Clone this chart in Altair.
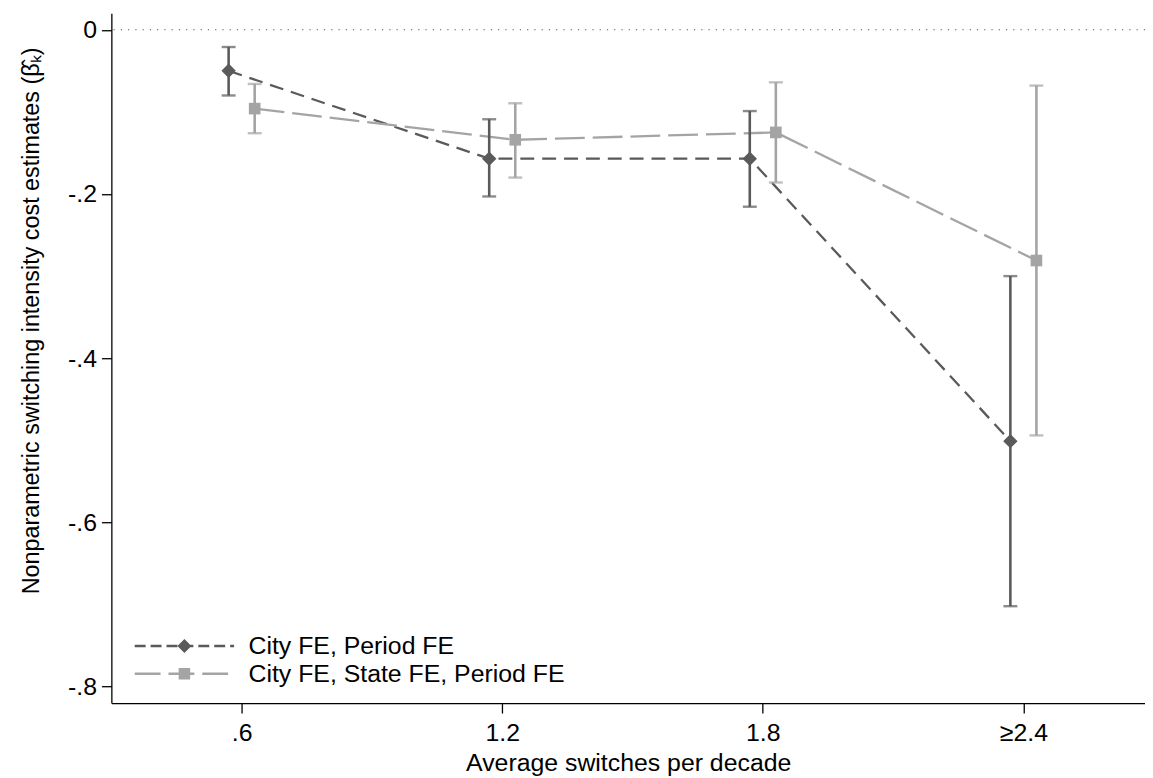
import altair as alt
import pandas as pd

# ---- data ----
x_vals = [0.6, 1.2, 1.8, 2.4]
x_labels = [".6", "1.2", "1.8", "≥2.4"]
series = ["City FE, Period FE", "City FE, State FE, Period FE"]

b_city = [-0.050, -0.157, -0.157, -0.501]
lo_city = [-0.080, -0.203, -0.2155, -0.702]
hi_city = [-0.021, -0.109, -0.099, -0.300]

b_state = [-0.096, -0.134, -0.125, -0.281]
lo_state = [-0.126, -0.180, -0.186, -0.494]
hi_state = [-0.066, -0.0895, -0.064, -0.068]

y_ticks = [0, -0.2, -0.4, -0.6, -0.8]
y_labels = ["0", "-.2", "-.4", "-.6", "-.8"]

dodge = [-0.03, 0.03]

DARK = "#5a5a5a"
LIGHT = "#a4a4a4"
FONT = "Liberation Sans, Arial, Helvetica, sans-serif"
FS = 25

rows = []
for s, b, lo, hi, d in [(series[0], b_city, lo_city, hi_city, dodge[0]),
                        (series[1], b_state, lo_state, hi_state, dodge[1])]:
    for xv, bv, l, h in zip(x_vals, b, lo, hi):
        rows.append({"series": s, "x": xv, "xpos": xv + d, "b": bv, "lo": l, "hi": h})
df = pd.DataFrame(rows)


def label_expr(vals, labs):
    expr = "''"
    for v, l in reversed(list(zip(vals, labs))):
        expr = f"abs(datum.value - ({v})) < 1e-6 ? '{l}' : ({expr})"
    return expr


# legend symbol: size 400 -> 1 path unit = 10px, symbol centre sits 10px into the entry.
SYM_SIZE = 400
UNIT = 10.0
CENTER = 10.0
SYM_LEN = 100.0


def legend_path(dash, gap, marker, half):
    def u(px):
        return (px - CENTER) / UNIT
    t = 1.2 / UNIT
    parts = []
    pos = 0.0
    while pos < SYM_LEN:
        end = min(pos + dash, SYM_LEN)
        a, c = u(pos), u(end)
        parts.append(f"M{a:.3f},{-t:.3f}L{c:.3f},{-t:.3f}L{c:.3f},{t:.3f}L{a:.3f},{t:.3f}Z")
        pos = end + gap
    m = u(SYM_LEN / 2)
    h = half / UNIT
    if marker == "diamond":
        parts.append(f"M{m - h:.3f},0L{m:.3f},{-h:.3f}L{m + h:.3f},0L{m:.3f},{h:.3f}Z")
    else:
        parts.append(f"M{m - h:.3f},{-h:.3f}L{m + h:.3f},{-h:.3f}L{m + h:.3f},{h:.3f}L{m - h:.3f},{h:.3f}Z")
    return "".join(parts)


path_city = legend_path(11, 5, "diamond", 7)
path_state = legend_path(26, 8, "square", 5.8)

xscale = alt.Scale(domain=[0.3, 2.68], nice=False, zero=False)
yscale = alt.Scale(domain=[-0.82, 0.02], nice=False, zero=False)

xaxis = alt.Axis(values=x_vals, labelExpr=label_expr(x_vals, x_labels),
                 title="Average switches per decade", tickSize=10, labelPadding=8,
                 titlePadding=5, grid=False)
yaxis = alt.Axis(values=y_ticks, labelExpr=label_expr(y_ticks, y_labels),
                 title="Nonparametric switching intensity cost estimates (β\u0302\u2096)",
                 titleFontSize=23.5, titleY=309,
                 tickSize=10, labelPadding=5, titlePadding=24, grid=False)

base = alt.Chart(df)

zero = alt.Chart(pd.DataFrame({"y": [0]})).mark_rule(
    color="#555555", strokeWidth=1.2, strokeDash=[1.2, 6.1]
).encode(y=alt.Y("y:Q", scale=yscale, axis=yaxis))

layers = [zero]
for s, col, dash in [(series[0], DARK, [14, 8]), (series[1], LIGHT, [30, 8])]:
    sub = base.transform_filter(alt.datum.series == s)
    layers.append(sub.mark_line(color=col, strokeWidth=2.3, strokeDash=dash).encode(
        x=alt.X("xpos:Q", scale=xscale, axis=xaxis), y=alt.Y("b:Q", scale=yscale)))

for s, col in [(series[0], DARK), (series[1], LIGHT)]:
    sub = base.transform_filter(alt.datum.series == s)
    layers.append(sub.mark_rule(color=col, strokeWidth=2.6).encode(
        x=alt.X("xpos:Q", scale=xscale), y=alt.Y("lo:Q", scale=yscale), y2="hi:Q"))
    for f in ["lo", "hi"]:
        layers.append(sub.mark_tick(color=col, orient="horizontal", size=14, thickness=2.4).encode(
            x=alt.X("xpos:Q", scale=xscale), y=alt.Y(f"{f}:Q", scale=yscale)))

for s, col, shp, sz in [(series[0], DARK, "diamond", 210), (series[1], LIGHT, "square", 137)]:
    sub = base.transform_filter(alt.datum.series == s)
    layers.append(sub.mark_point(color=col, filled=True, opacity=1, shape=shp, size=sz).encode(
        x=alt.X("xpos:Q", scale=xscale), y=alt.Y("b:Q", scale=yscale)))

leg = dict(title=None, orient="none", legendX=21, legendY=624,
           symbolSize=SYM_SIZE, symbolStrokeWidth=0, symbolOpacity=1,
           labelFontSize=FS, labelFont=FONT, labelColor="black",
           labelOffset=92, rowPadding=2, padding=0, labelLimit=600)

# legend-only layer: y is null so no mark is drawn, but the legend is built from the scales
legend_layer = base.transform_calculate(ynone="null").mark_point(filled=True).encode(
    x=alt.X("xpos:Q", scale=xscale),
    y=alt.Y("ynone:Q", scale=yscale),
    color=alt.Color("series:N", scale=alt.Scale(domain=series, range=[DARK, LIGHT]),
                    legend=alt.Legend(**leg)),
    shape=alt.Shape("series:N", scale=alt.Scale(domain=series, range=[path_city, path_state]),
                    legend=alt.Legend(**leg)),
)
layers.append(legend_layer)

chart = alt.layer(*layers).properties(
    width=1040, height=694,
    autosize=alt.AutoSizeParams(type="none"),
    padding={"left": 104, "top": 3, "right": 0, "bottom": 75},
    background="white",
).configure_view(stroke=None).configure_axis(
    domainColor="black", domainWidth=1.3, tickColor="black", tickWidth=1.3,
    labelFont=FONT, labelFontSize=FS, labelColor="black",
    titleFont=FONT, titleFontSize=FS, titleColor="black", titleFontWeight="normal",
    labelOverlap=False, labelFlush=False,
)

chart.save("out.html", embed_options={"renderer": "svg", "actions": False})
